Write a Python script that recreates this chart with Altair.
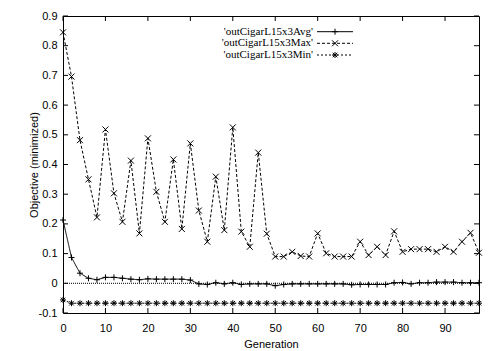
import altair as alt
import pandas as pd

generations = [0, 2, 4, 6, 8, 10, 12, 14, 16, 18, 20, 22, 24, 26, 28, 30, 32, 34, 36, 38,
               40, 42, 44, 46, 48, 50, 52, 54, 56, 58, 60, 62, 64, 66, 68, 70, 72, 74, 76, 78,
               80, 82, 84, 86, 88, 90, 92, 94, 96, 98]

avg_vals = [0.213, 0.087, 0.034, 0.017, 0.012, 0.020, 0.020, 0.017, 0.014, 0.012,
            0.015, 0.014, 0.014, 0.014, 0.014, 0.011, -0.002, -0.004, 0.002, -0.002,
            0.002, -0.004, -0.002, -0.002, -0.002, -0.008, -0.004, -0.002, -0.002, -0.002,
            -0.002, -0.002, -0.002, -0.002, -0.005, -0.004, -0.004, -0.004, -0.004, 0.002,
            0.003, -0.002, 0.002, 0.002, 0.004, 0.004, 0.004, 0.002, 0.002, 0.002]

max_vals = [0.845, 0.696, 0.482, 0.350, 0.222, 0.518, 0.303, 0.207, 0.413, 0.168,
            0.488, 0.308, 0.207, 0.417, 0.183, 0.471, 0.245, 0.140, 0.359, 0.179,
            0.525, 0.174, 0.123, 0.440, 0.167, 0.090, 0.090, 0.106, 0.092, 0.090,
            0.168, 0.101, 0.090, 0.090, 0.090, 0.140, 0.095, 0.123, 0.095, 0.175,
            0.106, 0.115, 0.115, 0.115, 0.106, 0.123, 0.106, 0.140, 0.170, 0.103]

min_vals = [-0.056, -0.067, -0.067, -0.067, -0.067, -0.067, -0.067, -0.067, -0.067, -0.067,
            -0.067, -0.067, -0.067, -0.067, -0.067, -0.067, -0.067, -0.067, -0.067, -0.067,
            -0.067, -0.067, -0.067, -0.067, -0.067, -0.067, -0.067, -0.067, -0.067, -0.067,
            -0.067, -0.067, -0.067, -0.067, -0.067, -0.067, -0.067, -0.067, -0.067, -0.067,
            -0.067, -0.067, -0.067, -0.067, -0.067, -0.067, -0.067, -0.067, -0.067, -0.067]

series_names = ["'outCigarL15x3Avg'", "'outCigarL15x3Max'", "'outCigarL15x3Min'"]
x_ticks = [0, 10, 20, 30, 40, 50, 60, 70, 80, 90]
y_ticks = [-0.1, 0.0, 0.1, 0.2, 0.3, 0.4, 0.5, 0.6, 0.7, 0.8, 0.9]

W, H = 416, 297
FONT = "Liberation Sans"
SERIF = "Liberation Serif"

PLUS = "M-1,0L1,0M0,-1L0,1"
CROSS = "M-1,-1L1,1M-1,1L1,-1"
STAR = "M-1,0L1,0M0,-1L0,1M-0.75,-0.75L0.75,0.75M-0.75,0.75L0.75,-0.75"

xs = alt.Scale(domain=[0, 98], nice=False, zero=False)
ys = alt.Scale(domain=[-0.1, 0.9], nice=False, zero=False)

series_vals = [avg_vals, max_vals, min_vals]
shapes = [PLUS, CROSS, STAR]
dashes = [[1, 0], [3, 2], [2, 2]]

x_axis = alt.Axis(values=x_ticks, tickSize=0, domain=False, grid=False,
                  labelPadding=9, labelFontSize=11, labelFont=FONT,
                  labelOverlap=False, labelFlush=False,
                  titleFont=FONT, titleFontSize=11, titleFontWeight="normal",
                  titleY=31, titleBaseline="middle", labelColor="black",
                  titleColor="black")
y_axis = alt.Axis(values=y_ticks, tickSize=0, domain=False, grid=False,
                  labelPadding=6, labelFontSize=11, labelFont=FONT,
                  labelOverlap=False, labelFlush=False,
                  labelExpr="datum.value == 0 ? '0' : replace(format(datum.value, '.1f'), '\u2212', '-')",
                  titleFont=FONT, titleFontSize=11, titleFontWeight="normal",
                  titleX=-29, titleY=H / 2, titleAngle=-90, titleAlign="center",
                  titleBaseline="middle", labelColor="black", titleColor="black")


def X(field):
    return alt.X(field, scale=xs, title="Generation", axis=x_axis)


def Y(field):
    return alt.Y(field, scale=ys, title="Objective (minimized)", axis=y_axis)


layers = []

for name, vals, shp, dsh in zip(series_names, series_vals, shapes, dashes):
    df = pd.DataFrame({"gen": generations, "val": vals})
    base = alt.Chart(df)
    layers.append(base.mark_line(color="black", strokeWidth=1, strokeDash=dsh).encode(x=X("gen:Q"), y=Y("val:Q")))
    layers.append(base.mark_point(shape=shp, size=36, filled=False, color="black", strokeWidth=1, opacity=1).encode(
        x=X("gen:Q"), y=Y("val:Q")))

# zero axis line
zero_df = pd.DataFrame({"val": [0.0]})
layers.append(alt.Chart(zero_df).mark_rule(color="black", strokeWidth=1, strokeDash=[1, 1]).encode(
    y=Y("val:Q"), x=alt.value(0), x2=alt.value(W)))

# inward ticks
xt = pd.DataFrame({"gen": x_ticks})
yt = pd.DataFrame({"val": y_ticks})
layers.append(alt.Chart(xt).mark_rule(color="black").encode(x=X("gen:Q"), y=alt.value(H), y2=alt.value(H - 5)))
layers.append(alt.Chart(xt).mark_rule(color="black").encode(x=X("gen:Q"), y=alt.value(0), y2=alt.value(5)))
layers.append(alt.Chart(yt).mark_rule(color="black").encode(y=Y("val:Q"), x=alt.value(0), x2=alt.value(5)))
layers.append(alt.Chart(yt).mark_rule(color="black").encode(y=Y("val:Q"), x=alt.value(W), x2=alt.value(W - 5)))

# legend (gnuplot style: text then sample)
row_y = [15.7, 27.3, 39.0]
for name, shp, dsh, ry in zip(series_names, shapes, dashes, row_y):
    ldf = pd.DataFrame({"label": [name]})
    layers.append(alt.Chart(ldf).mark_text(align="right", baseline="middle", font=SERIF, fontSize=11, color="black").encode(
        text="label:N", x=alt.value(250), y=alt.value(ry)))
    layers.append(alt.Chart(ldf).mark_rule(color="black", strokeWidth=1, strokeDash=dsh).encode(
        x=alt.value(254), x2=alt.value(290), y=alt.value(ry)))
    layers.append(alt.Chart(ldf).mark_point(shape=shp, size=36, filled=False, color="black", strokeWidth=1, opacity=1).encode(
        x=alt.value(272), y=alt.value(ry)))

chart = alt.layer(*layers).properties(
    width=W, height=H,
    autosize=alt.AutoSizeParams(type="none"),
    padding={"left": 63, "top": 16, "right": 22, "bottom": 38},
    background="white",
).configure_view(stroke="black", strokeWidth=1).configure_axis(
    labelOverlap=False, labelFlush=False, labelBound=False)

chart.save("out.html", embed_options={"renderer": "svg", "actions": False})
